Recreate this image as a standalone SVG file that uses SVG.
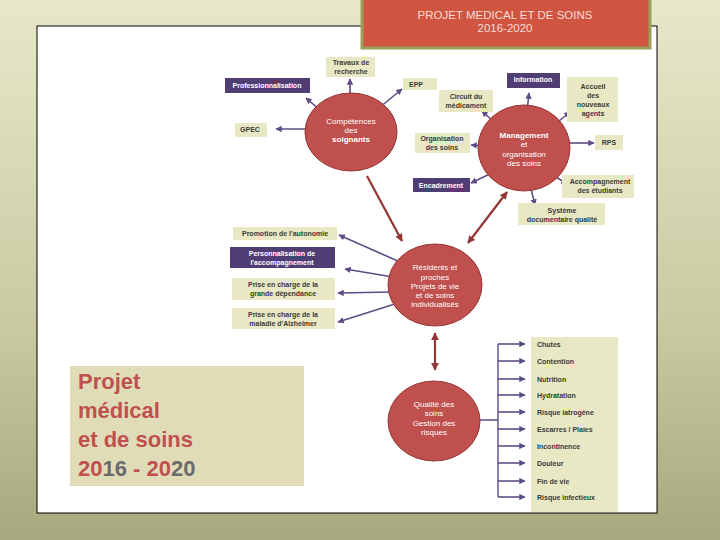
<svg xmlns="http://www.w3.org/2000/svg" width="720" height="540" viewBox="0 0 720 540">
<defs>
<linearGradient id="bg" x1="0" y1="0" x2="0" y2="1"><stop offset="0" stop-color="#e6e8c9"/><stop offset="0.6" stop-color="#c9caa2"/><stop offset="1" stop-color="#a8a87f"/></linearGradient>
<marker id="pa" viewBox="0 0 10 10" refX="9" refY="5" markerWidth="4" markerHeight="4" orient="auto"><path d="M0,0L10,5L0,10z" fill="#5f4c87"/></marker>
<marker id="ra" viewBox="0 0 10 10" refX="9" refY="5" markerWidth="3.5" markerHeight="3.5" orient="auto-start-reverse"><path d="M0,0L10,5L0,10z" fill="#943634"/></marker>
<style>
.b{fill:#e8e9c4}.p{fill:#4f3d73}
.t{font-family:"Liberation Sans",Arial,sans-serif;font-size:7px;font-weight:bold;fill:#3a3a3a;text-anchor:middle}
.w{fill:#fff}
.c{fill:#c0504d;stroke:#943634;stroke-width:1}
.ct{font-family:"Liberation Sans",Arial,sans-serif;font-size:8px;fill:#fff;text-anchor:middle}
.pl{stroke:#5f4c87;stroke-width:1.6;fill:none;marker-end:url(#pa)}
.rl{stroke:#943634;stroke-width:2.2;fill:none}
.lt{font-family:"Liberation Sans",Arial,sans-serif;font-size:7px;font-weight:bold;fill:#3a3a3a}
</style>
</defs>
<rect width="720" height="540" fill="url(#bg)"/>
<rect x="37" y="26" width="620" height="487" fill="#fff" stroke="#000" stroke-width="1"/>
<g id="title"><rect x="362" y="-2" width="288" height="50" fill="#d05540" stroke="#9aa05a" stroke-width="3"/>
<text x="505" y="19" font-family="Liberation Sans,Arial,sans-serif" font-size="11.5" fill="#f5dcd8" text-anchor="middle">PROJET MEDICAL ET DE SOINS</text>
<text x="505" y="32" font-family="Liberation Sans,Arial,sans-serif" font-size="11.5" fill="#f5dcd8" text-anchor="middle">2016-2020</text></g>
<g id="projet"><rect x="70" y="366" width="234" height="120" fill="#e0dcb8"/>
<g font-family="Liberation Sans,Arial,sans-serif" font-size="22" font-weight="bold" fill="#c0504d">
<text x="78" y="389">Projet</text><text x="78" y="418">médical</text><text x="78" y="447">et de soins</text>
<text x="78" y="476">20<tspan fill="#6b6b6b">16</tspan> - 20<tspan fill="#6b6b6b">20</tspan></text></g></g>
<g id="connectors">
<line class="pl" x1="350" y1="100" x2="350" y2="79"/>
<line class="pl" x1="320" y1="110" x2="306" y2="98"/>
<line class="pl" x1="379" y1="108" x2="402" y2="89"/>
<line class="pl" x1="311" y1="129" x2="276" y2="129"/>
<line class="pl" x1="497" y1="125" x2="482" y2="111"/>
<line class="pl" x1="527" y1="112" x2="529" y2="93"/>
<line class="pl" x1="553" y1="126" x2="570" y2="112"/>
<line class="pl" x1="486" y1="146" x2="471" y2="145"/>
<line class="pl" x1="563" y1="143" x2="594" y2="143"/>
<line class="pl" x1="494" y1="172" x2="471" y2="183"/>
<line class="pl" x1="553" y1="175" x2="567" y2="184"/>
<line class="pl" x1="530" y1="185" x2="535" y2="205"/>
<line class="pl" x1="400" y1="262" x2="339" y2="235"/>
<line class="pl" x1="393" y1="277" x2="345" y2="269"/>
<line class="pl" x1="393" y1="292" x2="338" y2="293"/>
<line class="pl" x1="398" y1="303" x2="338" y2="322"/>
<line class="rl" x1="367" y1="176" x2="402" y2="241" marker-end="url(#ra)"/>
<line class="rl" x1="507" y1="192" x2="468" y2="243" marker-start="url(#ra)" marker-end="url(#ra)"/>
<line class="rl" x1="435" y1="333" x2="435" y2="370" marker-start="url(#ra)" marker-end="url(#ra)"/>
<path d="M473,420H498M498,344V497" stroke="#5f4c87" stroke-width="1.4" fill="none"/>
<g>
<line class="pl" x1="498" y1="344" x2="525" y2="344"/><line class="pl" x1="498" y1="361" x2="525" y2="361"/>
<line class="pl" x1="498" y1="379" x2="525" y2="379"/><line class="pl" x1="498" y1="395" x2="525" y2="395"/>
<line class="pl" x1="498" y1="412" x2="525" y2="412"/><line class="pl" x1="498" y1="429" x2="525" y2="429"/>
<line class="pl" x1="498" y1="446" x2="525" y2="446"/><line class="pl" x1="498" y1="463" x2="525" y2="463"/>
<line class="pl" x1="498" y1="481" x2="525" y2="481"/><line class="pl" x1="498" y1="497" x2="525" y2="497"/>
</g>
</g>
<g id="competences"><ellipse class="c" cx="351" cy="132" rx="46" ry="39"/>
<text class="ct" x="351" y="124">Compétences</text><text class="ct" x="351" y="133">des</text><text class="ct" x="351" y="142" font-weight="bold">soignants</text></g>
<g id="management"><ellipse class="c" cx="524" cy="148" rx="46" ry="43"/>
<text class="ct" x="524" y="138" font-weight="bold">Management</text><text class="ct" x="524" y="147">et</text><text class="ct" x="524" y="157">organisation</text><text class="ct" x="524" y="166">des soins</text></g>
<g id="residents"><ellipse class="c" cx="435" cy="285" rx="47" ry="41"/>
<text class="ct" x="435" y="270">Résidents et</text><text class="ct" x="435" y="280">proches</text><text class="ct" x="435" y="289">Projets de vie</text><text class="ct" x="435" y="298">et de soins</text><text class="ct" x="435" y="307">individualisés</text></g>
<g id="qualite"><ellipse class="c" cx="434" cy="421" rx="46" ry="40"/>
<text class="ct" x="434" y="407">Qualité des</text><text class="ct" x="434" y="416">soins</text><text class="ct" x="434" y="426">Gestion des</text><text class="ct" x="434" y="435">risques</text></g>
<g id="travaux"><rect class="b" x="326" y="57" width="49" height="20"/><text class="t" x="351" y="65">Travaux de</text><text class="t" x="351" y="74">recherche</text></g>
<g id="prof"><rect class="p" x="225" y="78" width="85" height="15"/><text class="t w" x="267" y="88">Professionnalisation</text></g>
<g id="epp"><rect class="b" x="403" y="78" width="34" height="12"/><text class="t" x="416" y="87">EPP</text></g>
<g id="gpec"><rect class="b" x="235" y="123" width="32" height="14"/><text class="t" x="250" y="132">GPEC</text></g>
<g id="circuit"><rect class="b" x="439" y="90" width="54" height="22"/><text class="t" x="466" y="99">Circuit du</text><text class="t" x="466" y="108">médicament</text></g>
<g id="information"><rect class="p" x="507" y="73" width="53" height="15"/><text class="t w" x="533" y="82">Information</text></g>
<g id="accueil"><rect class="b" x="567" y="77" width="51" height="45"/><text class="t" x="593" y="89">Accueil</text><text class="t" x="593" y="98">des</text><text class="t" x="593" y="107">nouveaux</text><text class="t" x="593" y="116">agents</text></g>
<g id="orga"><rect class="b" x="415" y="133" width="55" height="20"/><text class="t" x="442" y="141">Organisation</text><text class="t" x="442" y="150">des soins</text></g>
<g id="rps"><rect class="b" x="595" y="135" width="28" height="15"/><text class="t" x="609" y="145">RPS</text></g>
<g id="encadrement"><rect class="p" x="413" y="178" width="57" height="14"/><text class="t w" x="441" y="188">Encadrement</text></g>
<g id="accomp"><rect class="b" x="562" y="175" width="72" height="23"/><text class="t" x="600" y="184">Accompagnement</text><text class="t" x="600" y="193">des étudiants</text></g>
<g id="systeme"><rect class="b" x="518" y="203" width="87" height="22"/><text class="t" x="562" y="213">Système</text><text class="t" x="562" y="222">documentaire qualité</text></g>
<g id="promotion"><rect class="b" x="233" y="227" width="104" height="13"/><text class="t" x="285" y="236">Promotion de l'autonomie</text></g>
<g id="perso"><rect class="p" x="230" y="247" width="105" height="21"/><text class="t w" x="282" y="256">Personnalisation de</text><text class="t w" x="282" y="265">l'accompagnement</text></g>
<g id="grande"><rect class="b" x="232" y="278" width="103" height="22"/><text class="t" x="283" y="287">Prise en charge de la</text><text class="t" x="283" y="296">grande dépendance</text></g>
<g id="alzheimer"><rect class="b" x="232" y="308" width="103" height="21"/><text class="t" x="283" y="317">Prise en charge de la</text><text class="t" x="283" y="326">maladie d'Alzheimer</text></g>
<g id="risques"><rect class="b" x="531" y="337" width="87" height="175"/>
<text class="lt" x="537" y="347">Chutes</text><text class="lt" x="537" y="364">Contention</text><text class="lt" x="537" y="382">Nutrition</text><text class="lt" x="537" y="398">Hydratation</text><text class="lt" x="537" y="415">Risque iatrogène</text><text class="lt" x="537" y="432">Escarres / Plaies</text><text class="lt" x="537" y="449">Incontinence</text><text class="lt" x="537" y="466">Douleur</text><text class="lt" x="537" y="484">Fin de vie</text><text class="lt" x="537" y="500">Risque infectieux</text></g>
</svg>
